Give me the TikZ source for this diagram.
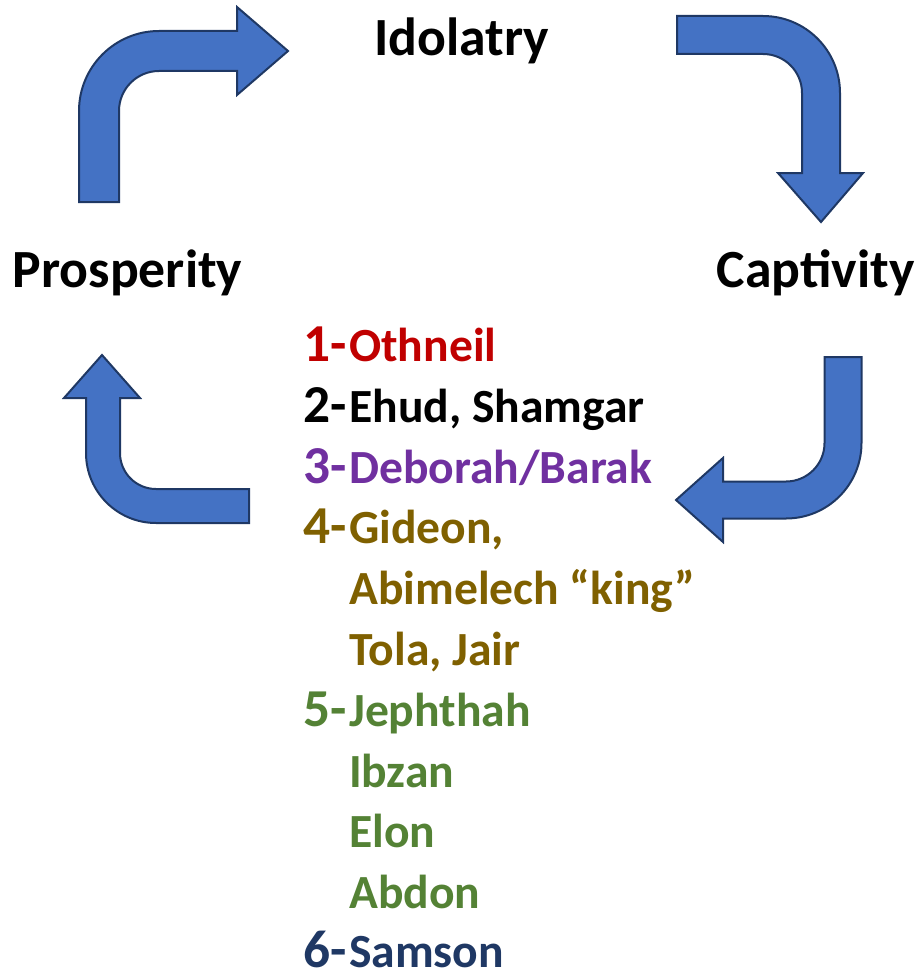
\documentclass[tikz,border=0pt]{standalone}
\usepackage{fontspec}
\setmainfont{Carlito}
\definecolor{arrowblue}{HTML}{4472C4}
\definecolor{arrowedge}{HTML}{1F3864}
\definecolor{judgered}{HTML}{C00000}
\definecolor{judgepurple}{HTML}{7030A0}
\definecolor{judgebrown}{HTML}{7F6000}
\definecolor{judgegreen}{HTML}{548235}
\definecolor{judgenavy}{HTML}{1F3864}
\tikzset{
  bentarrow/.style={fill=arrowblue, draw=arrowedge, line width=1.5pt, line join=miter},
  stagelabel/.style={anchor=base, inner sep=0pt, font=\fontsize{40.3}{42}\selectfont\bfseries},
  judgenum/.style={anchor=base east, inner sep=0pt, font=\fontsize{40}{42}\selectfont\bfseries},
  judgename/.style={anchor=base west, inner sep=0pt, font=\fontsize{35.7}{40}\selectfont\bfseries}
}
\begin{document}
\begin{tikzpicture}[x=0.75pt, y=0.75pt]
    \useasboundingbox (0,0) rectangle (918,-974);
    %% Stages of the cycle
    \node[stagelabel] (idolatry) at (461.5,-56) {Idolatry};
    \node[stagelabel] (captivity) at (815.5,-287) {Captivity};
    \node[stagelabel] (prosperity) at (127.5,-287) {Prosperity};
    %% Bent arrows
    \draw[bentarrow] (79,-202) -- (79,-111) arc[start angle=180, end angle=90, radius=80]
        -- (237,-31) -- (237,-7) -- (288,-51) -- (237,-95) -- (237,-71) -- (159,-71)
        arc[start angle=90, end angle=180, radius=40] -- (119,-202) -- cycle;
    \draw[bentarrow] (677,-16) -- (763,-16) arc[start angle=90, end angle=0, radius=77]
        -- (840,-173) -- (863,-173) -- (821,-222) -- (778,-173) -- (802,-173) -- (802,-93)
        arc[start angle=0, end angle=90, radius=39] -- (677,-54) -- cycle;
    \draw[bentarrow] (824.5,-357) -- (861.5,-357) -- (861.5,-443)
        arc[start angle=0, end angle=-90, radius=75.5] -- (723,-518.5) -- (723,-542)
        -- (676,-500) -- (723,-458) -- (723,-481.5) -- (786,-481.5)
        arc[start angle=-90, end angle=0, radius=38.5] -- cycle;
    \draw[bentarrow] (249,-489) -- (156,-489) arc[start angle=270, end angle=180, radius=36]
        -- (120,-398) -- (140,-398) -- (102,-355) -- (64,-398) -- (86,-398) -- (86,-453)
        arc[start angle=180, end angle=270, radius=70] -- (249,-523) -- cycle;
    %% Judges
    \node[judgenum, judgered] (n1) at (347,-361) {1-};
    \node[judgename, judgered] (othniel) at (349,-361) {Othneil};
    \node[judgenum] (n2) at (347,-422) {2-};
    \node[judgename] (ehud) at (349,-422) {Ehud, Shamgar};
    \node[judgenum, judgepurple] (n3) at (347,-483) {3-};
    \node[judgename, judgepurple] (deborah) at (349,-483) {Deborah/Barak};
    \node[judgenum, judgebrown] (n4) at (347,-543) {4-};
    \node[judgename, judgebrown] (gideon) at (349,-543) {Gideon,};
    \node[judgename, judgebrown] (abimelech) at (349,-604) {Abimelech “king”};
    \node[judgename, judgebrown] (tola) at (349,-665) {Tola, Jair};
    \node[judgenum, judgegreen] (n5) at (347,-726) {5-};
    \node[judgename, judgegreen] (jephthah) at (349,-726) {Jephthah};
    \node[judgename, judgegreen] (ibzan) at (349,-787) {Ibzan};
    \node[judgename, judgegreen] (elon) at (349,-847) {Elon};
    \node[judgename, judgegreen] (abdon) at (349,-908) {Abdon};
    \node[judgenum, judgenavy] (n6) at (347,-967) {6-};
    \node[judgename, judgenavy] (samson) at (349,-967) {Samson};
\end{tikzpicture}
\end{document}
